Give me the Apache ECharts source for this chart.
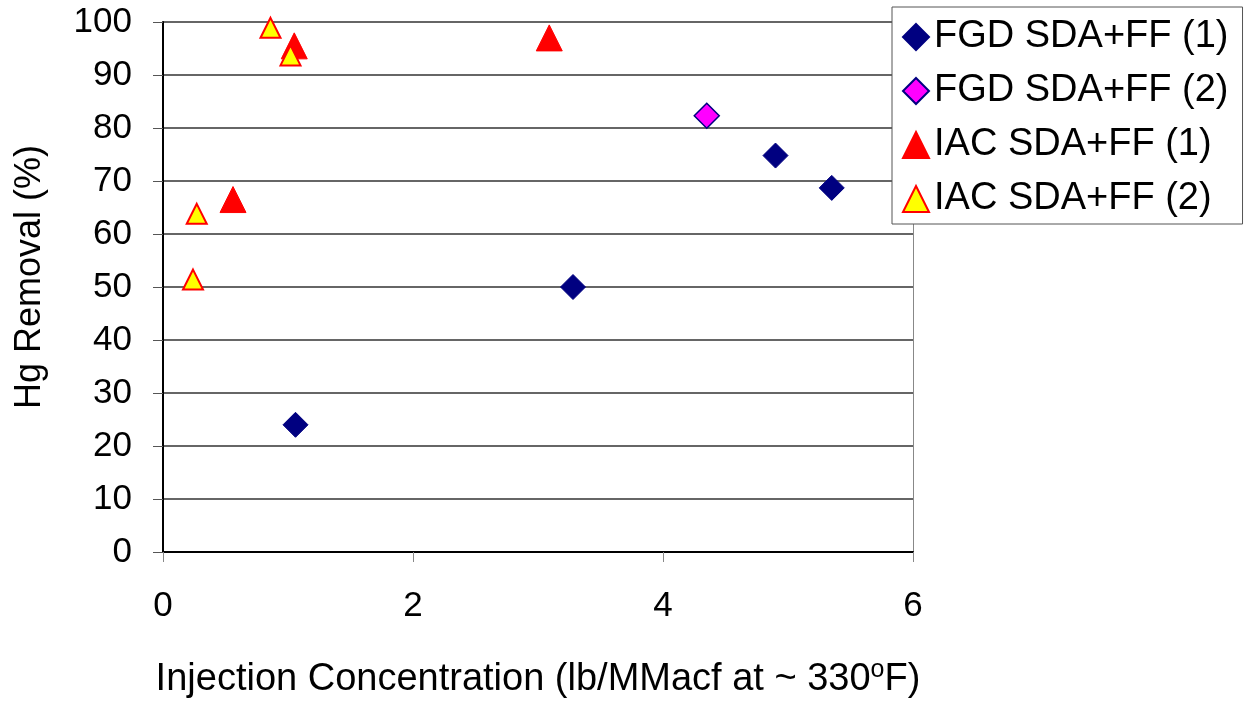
<!DOCTYPE html>
<html>
<head>
<meta charset="utf-8">
<script src="https://cdn.jsdelivr.net/npm/echarts@6/dist/echarts.min.js"></script>
<style>
html,body{margin:0;padding:0;background:#fff;}
#chart{width:1249px;height:702px;}
</style>
</head>
<body>
<div id="chart"></div>
<script>
var seriesNames = ['FGD SDA+FF (1)', 'FGD SDA+FF (2)', 'IAC SDA+FF (1)', 'IAC SDA+FF (2)'];
var fgd1 = [[1.06, 24.0], [3.28, 50.0], [4.90, 74.8], [5.35, 68.7]];
var fgd2 = [[4.35, 82.3]];
var iac1 = [[0.56, 66.5], [1.05, 95.5], [3.09, 97.0]];
var iac2 = [[0.24, 51.4], [0.27, 63.8], [0.86, 98.9], [1.02, 93.7]];
var xTicks = [0, 2, 4, 6];
var yTicks = [0, 10, 20, 30, 40, 50, 60, 70, 80, 90, 100];
var xTitle = 'Injection Concentration (lb/MMacf at ~ 330{sup|o}F)';
var yTitle = 'Hg Removal (%)';

var FONT = 'Liberation Sans, Arial, sans-serif';
var chart = echarts.init(document.getElementById('chart'), null, {renderer: 'canvas'});
chart.setOption({
  animation: false,
  backgroundColor: '#fff',
  grid: {left: 163, right: 336, top: 22, bottom: 150, containLabel: false, outerBoundsMode: 'none'},
  legend: {
    orient: 'vertical',
    left: 892, top: 7,
    padding: [11, 14, 6, 10],
    itemWidth: 26, itemHeight: 26,
    itemGap: 16,
    backgroundColor: '#fff',
    borderColor: '#555', borderWidth: 1,
    textStyle: {fontFamily: FONT, fontSize: 38, color: '#000', lineHeight: 38},
    data: seriesNames
  },
  graphic: [{
    type: 'text',
    x: 30, y: 277, rotation: Math.PI / 2,
    style: {text: yTitle, font: '36px ' + FONT, fill: '#000', align: 'center', verticalAlign: 'middle'}
  }],
  xAxis: {
    type: 'value', min: xTicks[0], max: xTicks[xTicks.length - 1], interval: 2,
    name: xTitle,
    nameLocation: 'middle', nameGap: 106,
    nameTextStyle: {fontFamily: FONT, fontSize: 38, color: '#000',
      rich: {sup: {fontFamily: FONT, fontSize: 25, verticalAlign: 'top', padding: [0, 0, 18, 0], color: '#000'}}},
    axisLine: {show: true, onZero: false, lineStyle: {color: '#000', width: 2}},
    axisTick: {show: true, inside: false, length: 10, lineStyle: {color: '#888', width: 1}},
    axisLabel: {fontFamily: FONT, fontSize: 35, color: '#000', margin: 37},
    splitLine: {show: false}
  },
  yAxis: [{
    type: 'value', min: yTicks[0], max: yTicks[yTicks.length - 1], interval: 10,
    axisLine: {show: true, onZero: false, lineStyle: {color: '#000', width: 2}},
    axisTick: {show: true, inside: false, length: 10, lineStyle: {color: '#555', width: 1}},
    axisLabel: {fontFamily: FONT, fontSize: 35, color: '#000', margin: 31},
    splitLine: {show: true, lineStyle: {color: '#333', width: 1.5}}
  }, {
    type: 'value', min: 0, max: 100, position: 'right',
    axisLine: {show: true, onZero: false, lineStyle: {color: '#888', width: 1}},
    axisTick: {show: false}, axisLabel: {show: false}, splitLine: {show: false}
  }],
  series: [
    {name: seriesNames[0], type: 'scatter', data: fgd1, symbol: 'diamond', symbolSize: 25,
     itemStyle: {color: '#000080', borderColor: '#000080', borderWidth: 1, opacity: 1}},
    {name: seriesNames[1], type: 'scatter', data: fgd2, symbol: 'diamond', symbolSize: 25,
     itemStyle: {color: '#FF00FF', borderColor: '#000080', borderWidth: 1.5, opacity: 1}},
    {name: seriesNames[2], type: 'scatter', data: iac1, symbol: 'triangle', symbolSize: 26,
     itemStyle: {color: '#FF0000', borderColor: '#FF0000', borderWidth: 1, opacity: 1}},
    {name: seriesNames[3], type: 'scatter', data: iac2, symbol: 'triangle', symbolSize: 20,
     itemStyle: {color: '#FFFF00', borderColor: '#FF0000', borderWidth: 2, opacity: 1}}
  ]
});
</script>
</body>
</html>
